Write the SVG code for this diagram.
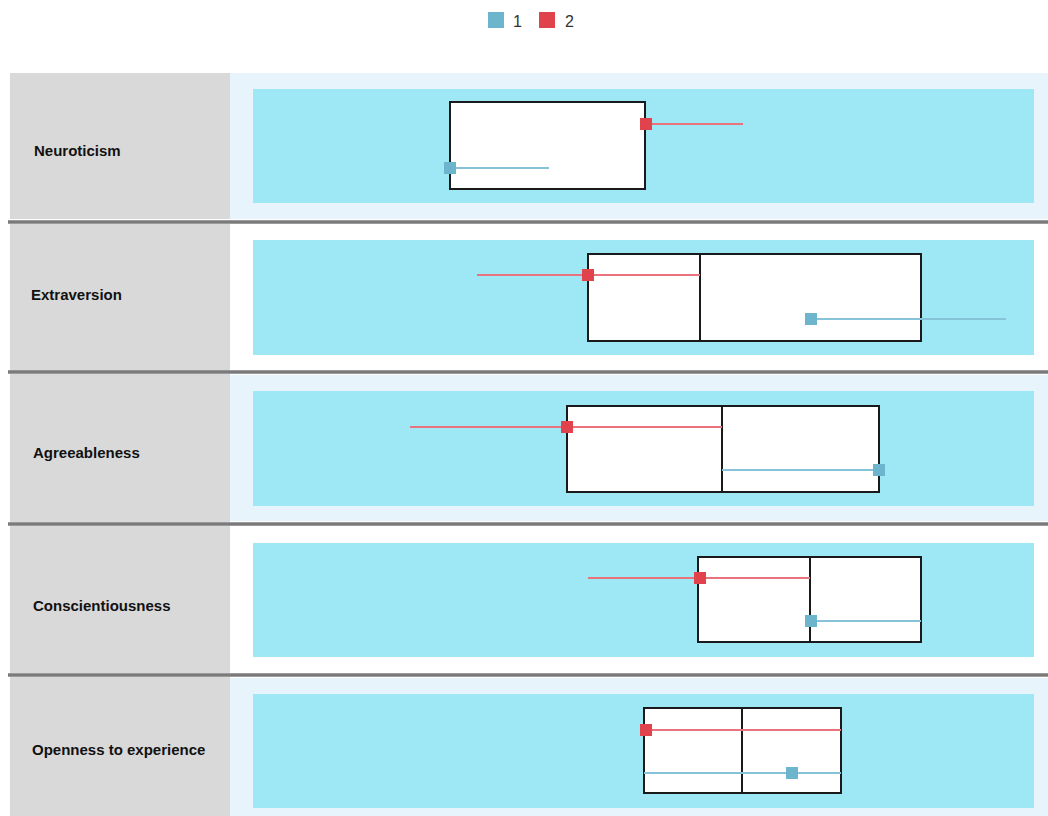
<svg xmlns="http://www.w3.org/2000/svg" width="1048" height="816" viewBox="0 0 1048 816">
<style>
.lab{font-family:"Liberation Sans",Arial,sans-serif;font-weight:bold;font-size:15px;fill:#111}
.leg{font-family:"Liberation Sans",Arial,sans-serif;font-size:16px;fill:#333}
.grey{fill:#d9d9d9}
.pan{fill:#e8f4fc}
.cy{fill:#9ee7f5}
.box{fill:#fff;stroke:#1a1a1a;stroke-width:2}
.med{stroke:#1a1a1a;stroke-width:2}
.sep{stroke:#7a7a7a;stroke-width:3.5}
.rl{stroke:#e8737c;stroke-width:2}
.bl{stroke:#86c2d8;stroke-width:2}
.rm{fill:#e0434c}
.bm{fill:#6db5cd}
</style>
<rect width="1048" height="816" fill="#fff"/>
<g id="legend">
<rect x="488" y="12" width="16" height="16" class="bm"/>
<text x="513" y="27" class="leg">1</text>
<rect x="539" y="12" width="16" height="16" class="rm"/>
<text x="565" y="27" class="leg">2</text>
</g>
<g id="row-neuroticism">
<rect x="10" y="73" width="220" height="146" class="grey"/>
<rect x="230" y="73" width="818" height="146" class="pan"/>
<rect x="253" y="89" width="781" height="114" class="cy"/>
<text x="34" y="156" class="lab">Neuroticism</text>
<rect x="450" y="102" width="195" height="87" class="box"/>
<line x1="645" y1="102" x2="645" y2="189" class="med"/>
<line x1="646" y1="124" x2="743" y2="124" class="rl"/>
<rect x="640" y="118" width="12" height="12" class="rm"/>
<line x1="450" y1="168" x2="549" y2="168" class="bl"/>
<rect x="444" y="162" width="12" height="12" class="bm"/>
</g>
<g id="row-extraversion">
<rect x="10" y="224" width="220" height="147" class="grey"/>
<rect x="253" y="240" width="781" height="115" class="cy"/>
<text x="31" y="300" class="lab">Extraversion</text>
<rect x="588" y="254" width="333" height="87" class="box"/>
<line x1="700" y1="254" x2="700" y2="341" class="med"/>
<line x1="477" y1="275" x2="700" y2="275" class="rl"/>
<rect x="582" y="269" width="12" height="12" class="rm"/>
<line x1="811" y1="319" x2="1006" y2="319" class="bl"/>
<rect x="805" y="313" width="12" height="12" class="bm"/>
</g>
<g id="row-agreeableness">
<rect x="10" y="374" width="220" height="148" class="grey"/>
<rect x="230" y="375" width="818" height="146" class="pan"/>
<rect x="253" y="391" width="781" height="115" class="cy"/>
<text x="33" y="458" class="lab">Agreeableness</text>
<rect x="567" y="406" width="312" height="86" class="box"/>
<line x1="722" y1="406" x2="722" y2="492" class="med"/>
<line x1="410" y1="427" x2="722" y2="427" class="rl"/>
<rect x="561" y="421" width="12" height="12" class="rm"/>
<line x1="722" y1="470" x2="879" y2="470" class="bl"/>
<rect x="873" y="464" width="12" height="12" class="bm"/>
</g>
<g id="row-conscientiousness">
<rect x="10" y="526" width="220" height="147" class="grey"/>
<rect x="253" y="543" width="781" height="114" class="cy"/>
<text x="33" y="611" class="lab">Conscientiousness</text>
<rect x="698" y="557" width="223" height="85" class="box"/>
<line x1="810" y1="557" x2="810" y2="642" class="med"/>
<line x1="588" y1="578" x2="810" y2="578" class="rl"/>
<rect x="694" y="572" width="12" height="12" class="rm"/>
<line x1="810" y1="621" x2="921" y2="621" class="bl"/>
<rect x="805" y="615" width="12" height="12" class="bm"/>
</g>
<g id="row-openness">
<rect x="10" y="677" width="220" height="139" class="grey"/>
<rect x="230" y="678" width="818" height="138" class="pan"/>
<rect x="253" y="694" width="781" height="114" class="cy"/>
<text x="32" y="755" class="lab">Openness to experience</text>
<rect x="644" y="708" width="197" height="85" class="box"/>
<line x1="742" y1="708" x2="742" y2="793" class="med"/>
<line x1="646" y1="730" x2="841" y2="730" class="rl"/>
<rect x="640" y="724" width="12" height="12" class="rm"/>
<line x1="644" y1="773" x2="841" y2="773" class="bl"/>
<rect x="786" y="767" width="12" height="12" class="bm"/>
</g>
<g id="separators">
<line x1="8" y1="222" x2="1048" y2="222" class="sep"/>
<line x1="8" y1="372" x2="1048" y2="372" class="sep"/>
<line x1="8" y1="524" x2="1048" y2="524" class="sep"/>
<line x1="8" y1="675" x2="1048" y2="675" class="sep"/>
</g>
</svg>
